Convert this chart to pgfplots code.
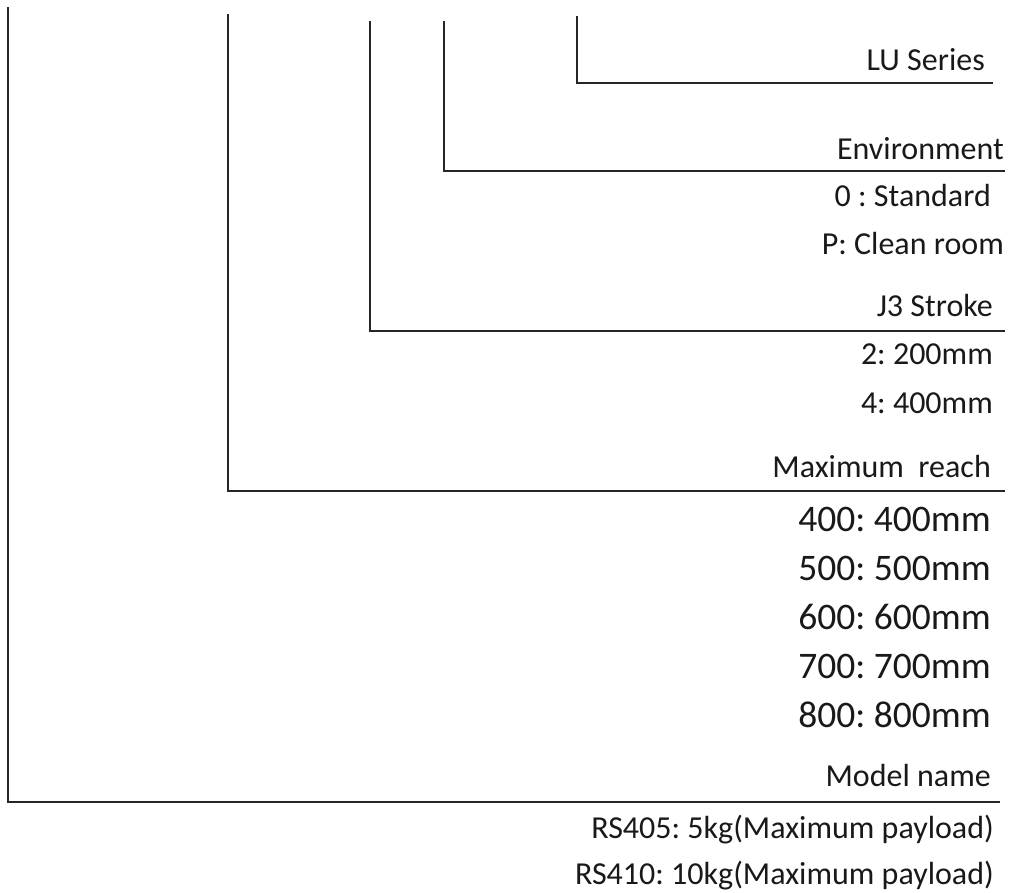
\documentclass[border=0pt]{standalone}
\usepackage{fontspec}
\setmainfont{Carlito}
\usepackage{pgfplots}
\pgfplotsset{compat=1.18}
\frenchspacing
\begin{document}
\frenchspacing
\begin{tikzpicture}
\begin{axis}[
  width=1009pt, height=892pt, scale only axis,
  xmin=0, xmax=1009, ymin=0, ymax=892, y dir=reverse,
  hide axis, clip=false,
]
\addplot[draw=none, forget plot] coordinates {(0,0) (1009,892)};
\addplot[black!85, line width=1.4pt, line join=miter] coordinates {(8,7) (8,802) (1000,802)};
\addplot[black!85, line width=1.4pt, line join=miter] coordinates {(228,14) (228,491) (1005,491)};
\addplot[black!85, line width=1.4pt, line join=miter] coordinates {(370,21) (370,331) (1005,331)};
\addplot[black!85, line width=1.4pt, line join=miter] coordinates {(444,21) (444,171) (1005,171)};
\addplot[black!85, line width=1.4pt, line join=miter] coordinates {(577,16) (577,83) (993,83)};

\tikzset{sm/.style={anchor=base east, inner sep=0pt, font=\fontsize{32}{37}\selectfont\frenchspacing, text=black!90},
         lg/.style={anchor=base east, inner sep=0pt, font=\fontsize{37.5}{43}\selectfont\frenchspacing, text=black!90}}
\node[sm] at (axis cs:985,70) {LU Series};
\node[sm] at (axis cs:1004,159) {Environment};
\node[sm] at (axis cs:991,206) {0 : Standard};
\node[sm] at (axis cs:1004,254) {P: Clean room};
\node[sm] at (axis cs:993,316) {J3 Stroke};
\node[sm] at (axis cs:993,364) {2: 200mm};
\node[sm] at (axis cs:993,413) {4: 400mm};
\node[sm] at (axis cs:991,477) {Maximum\ \ reach};
\node[lg] at (axis cs:991,531) {400: 400mm};
\node[lg] at (axis cs:991,580) {500: 500mm};
\node[lg] at (axis cs:991,629) {600: 600mm};
\node[lg] at (axis cs:991,678) {700: 700mm};
\node[lg] at (axis cs:991,727) {800: 800mm};
\node[sm] at (axis cs:991,786) {Model name};
\node[sm] at (axis cs:994,838) {RS405: 5kg(Maximum payload)};
\node[sm] at (axis cs:994,884) {RS410: 10kg(Maximum payload)};
\end{axis}
\end{tikzpicture}
\end{document}
